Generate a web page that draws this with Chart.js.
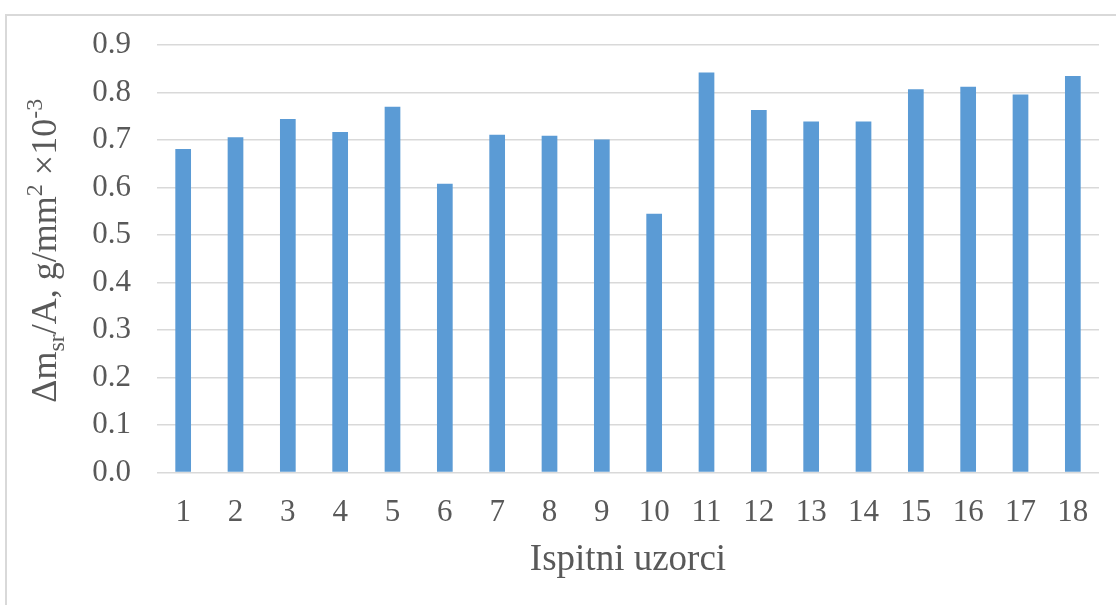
<!DOCTYPE html>
<html>
<head>
<meta charset="utf-8">
<script src="https://cdn.jsdelivr.net/npm/chart.js@4/dist/chart.umd.min.js"></script>
<style>
  html, body { margin: 0; padding: 0; background: #ffffff; }
  #wrap { position: relative; width: 1116px; height: 605px; overflow: hidden; }
  #frame { position: absolute; left: 5px; top: 14px; width: 1200px; height: 700px;
           border-top: 2px solid #d9d9d9; border-left: 2px solid #d9d9d9; }
  canvas { position: absolute; left: 0; top: 0; }
</style>
</head>
<body>
<div id="wrap">
  <div id="frame"></div>
  <canvas id="c" width="1116" height="605"></canvas>
</div>
<script>
const categories = ['1','2','3','4','5','6','7','8','9','10','11','12','13','14','15','16','17','18'];
const values = [0.681, 0.706, 0.744, 0.717, 0.770, 0.608, 0.711, 0.709, 0.701,
                0.545, 0.842, 0.763, 0.739, 0.739, 0.807, 0.812, 0.796, 0.835];
const xTitle = 'Ispitni uzorci';
const yTitleParts = [
  { t: '\u0394m', kind: 'n' },
  { t: 'sr', kind: 'sub' },
  { t: '/A, g/mm', kind: 'n' },
  { t: '2', kind: 'sup' },
  { t: ' \u00d710', kind: 'n' },
  { t: '-3', kind: 'sup' }
];

const FONT = "'Liberation Serif', 'Times New Roman', serif";
const TEXT = '#595959';

const yTitlePlugin = {
  id: 'yTitle',
  afterDraw(chart) {
    const ctx = chart.ctx;
    const area = chart.chartArea;
    const main = 36, small = 24;
    ctx.save();
    ctx.fillStyle = TEXT;
    ctx.textBaseline = 'alphabetic';
    ctx.textAlign = 'left';
    let total = 0;
    const widths = yTitleParts.map(p => {
      ctx.font = (p.kind === 'n' ? main : small) + 'px ' + FONT;
      const w = ctx.measureText(p.t).width;
      total += w;
      return w;
    });
    ctx.translate(56, (area.top + area.bottom) / 2 - 8);
    ctx.rotate(-Math.PI / 2);
    let x = -total / 2;
    yTitleParts.forEach((p, i) => {
      ctx.font = (p.kind === 'n' ? main : small) + 'px ' + FONT;
      const dy = p.kind === 'sub' ? 8 : (p.kind === 'sup' ? -14 : 0);
      ctx.fillText(p.t, x, dy);
      x += widths[i];
    });
    ctx.restore();
  }
};

new Chart(document.getElementById('c'), {
  type: 'bar',
  data: {
    labels: categories,
    datasets: [{
      data: values,
      backgroundColor: '#5B9BD5',
      borderWidth: 0,
      barPercentage: 0.3,
      categoryPercentage: 1.0
    }]
  },
  options: {
    responsive: false,
    animation: false,
    devicePixelRatio: 1,
    layout: { padding: { top: 45, right: 17, bottom: 0, left: 0 } },
    plugins: { legend: { display: false }, tooltip: { enabled: false } },
    scales: {
      x: {
        grid: { display: false, drawTicks: false },
        border: { display: false },
        ticks: { color: TEXT, font: { family: FONT, size: 31 }, padding: 22, maxRotation: 0, autoSkip: false },
        title: { display: true, text: xTitle, color: TEXT, font: { family: FONT, size: 37 }, padding: { top: 4, bottom: 23 } },
        afterFit(scale) { scale.height = 132.5; }
      },
      y: {
        min: 0, max: 0.9,
        ticks: { stepSize: 0.1, color: TEXT, font: { family: FONT, size: 31 }, padding: 26,
                 callback: v => Number(v).toFixed(1) },
        grid: { color: '#d9d9d9', lineWidth: 1.5, drawTicks: false },
        border: { display: false },
        afterFit(scale) { scale.width = 157; }
      }
    }
  },
  plugins: [yTitlePlugin]
});
</script>
</body>
</html>
